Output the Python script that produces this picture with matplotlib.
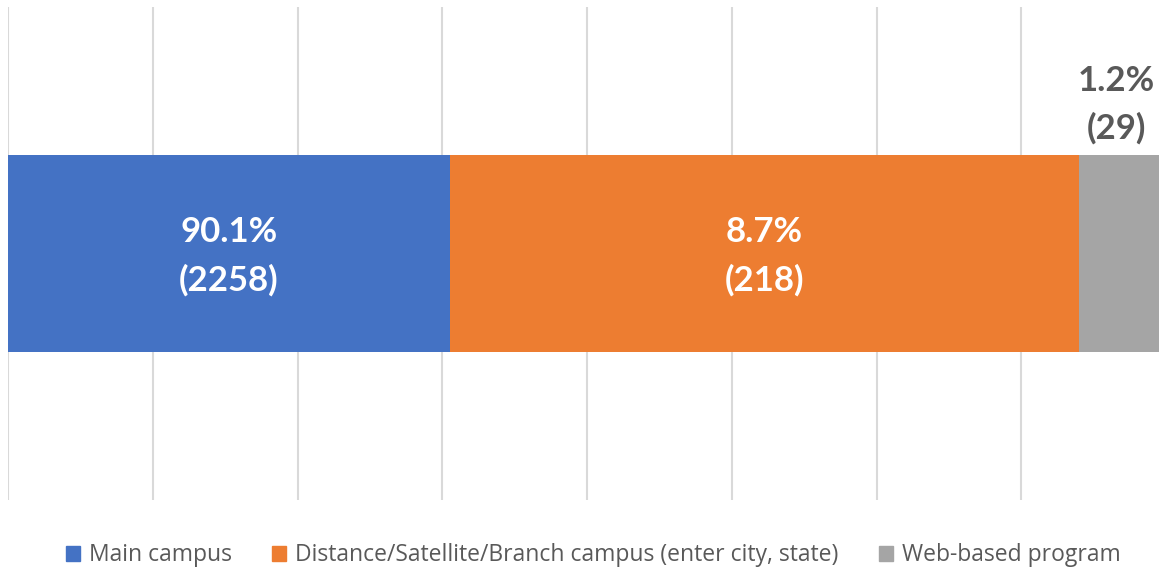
import matplotlib.pyplot as plt
from matplotlib.patches import Patch

# segment lengths in gridline units
categories = ["Main campus", "Distance/Satellite/Branch campus (enter city, state)", "Web-based program"]
seg_lengths = [3.05, 4.35, 0.55]
pct_labels = ["90.1%", "8.7%", "1.2%"]
count_labels = ["(2258)", "(218)", "(29)"]
colors = ["#4472C4", "#ED7D31", "#A5A5A5"]
label_colors = ["white", "white", "#595959"]

plt.rcParams['font.family'] = ['Lato', 'DejaVu Sans']

fig = plt.figure(figsize=(11.59, 5.69), dpi=100)
ax = fig.add_axes([8 / 1159, 69 / 569, 1 - 8 / 1159, 493 / 569])

left = 0
for i, w in enumerate(seg_lengths):
    ax.barh(0, w, left=left, height=0.4, color=colors[i], zorder=3)
    txt = pct_labels[i] + "\n" + count_labels[i]
    if i < 2:
        ax.text(left + w / 2, -0.005, txt, ha="center", va="center", color=label_colors[i],
                fontsize=25, fontweight="bold", linespacing=1.6, zorder=4)
    else:
        ax.text(left + w / 2 - 0.02, 0.22, txt, ha="center", va="bottom", color=label_colors[i],
                fontsize=25, fontweight="bold", linespacing=1.6, zorder=4)
    left += w

ax.set_xlim(0, 7.95)
ax.set_ylim(-0.5, 0.5)
ax.set_xticks(range(0, 8))
ax.set_yticks([])
ax.tick_params(axis="x", length=0, labelbottom=False)
ax.grid(axis="x", color="#D9D9D9", linewidth=1.5, zorder=0)
for s in ax.spines.values():
    s.set_visible(False)

handles = [Patch(color=c) for c in colors]
fig.legend(handles, categories, loc="center", bbox_to_anchor=(0.512, 0.024), ncol=3,
           frameon=False, prop={"family": "Open Sans", "size": 16.5}, labelcolor="#595959",
           handlelength=0.6, handleheight=0.6, handletextpad=0.4, columnspacing=1.75)

fig.savefig("out.png", dpi=100)
